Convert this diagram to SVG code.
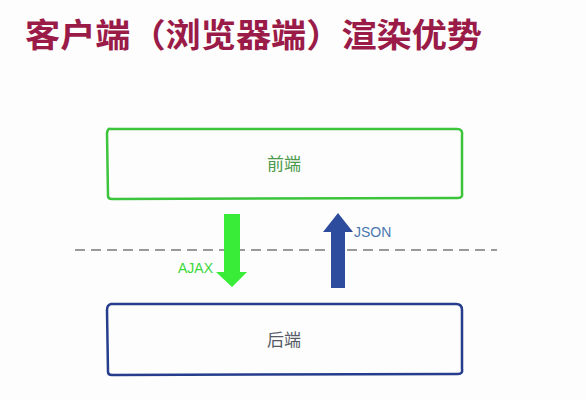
<svg xmlns="http://www.w3.org/2000/svg" width="586" height="400" viewBox="0 0 586 400">
<style>
.title{font-family:"Liberation Sans","Noto Sans CJK SC",sans-serif;font-size:33px;font-weight:bold;fill:#9b1b48}
.box{fill:none;stroke-width:2.5;stroke-linejoin:round}
.lbl{font-family:"Liberation Sans","Noto Sans CJK SC",sans-serif;font-size:17px;text-anchor:middle}
.tag{font-family:"Liberation Sans",sans-serif;font-size:14px}
</style>
<rect width="586" height="400" fill="#fdfdfd"/>
<text class="title" x="25" y="47" textLength="457" lengthAdjust="spacingAndGlyphs">客户端（浏览器端）渲染优势</text>
<g id="frontend">
<path class="box" stroke="#3cc43c" d="M110,129 Q108,128 107,133 L108,196 Q108,199 112,199 L458,198 Q463,198 462,193 L462,135 Q463,129 457,129 Z"/>
<text class="lbl" x="284" y="170" fill="#4a9a4a">前端</text>
</g>
<g id="backend">
<path class="box" stroke="#253d8c" d="M111,304 Q107,305 107,310 L108,372 Q108,375 112,375 L458,374 Q463,374 462,369 L462,310 Q462,304 456,304 Z"/>
<text class="lbl" x="284" y="346" fill="#555a66">后端</text>
</g>
<g id="connectors">
<line x1="75" y1="250" x2="497" y2="250" stroke="#9a9a9a" stroke-width="2" stroke-dasharray="10,6"/>
<path d="M224,214 L240,214 L240,272 L247,272 L232,287 L216,272 L224,272 Z" fill="#38ec38"/>
<path d="M331,288 L345,288 L345,232 L353,232 L338,213 L323,232 L331,232 Z" fill="#2d4c9e"/>
<text class="tag" x="178" y="273" fill="#3ad83a">AJAX</text>
<text class="tag" x="354" y="237" fill="#4a78ae">JSON</text>
</g>
</svg>
